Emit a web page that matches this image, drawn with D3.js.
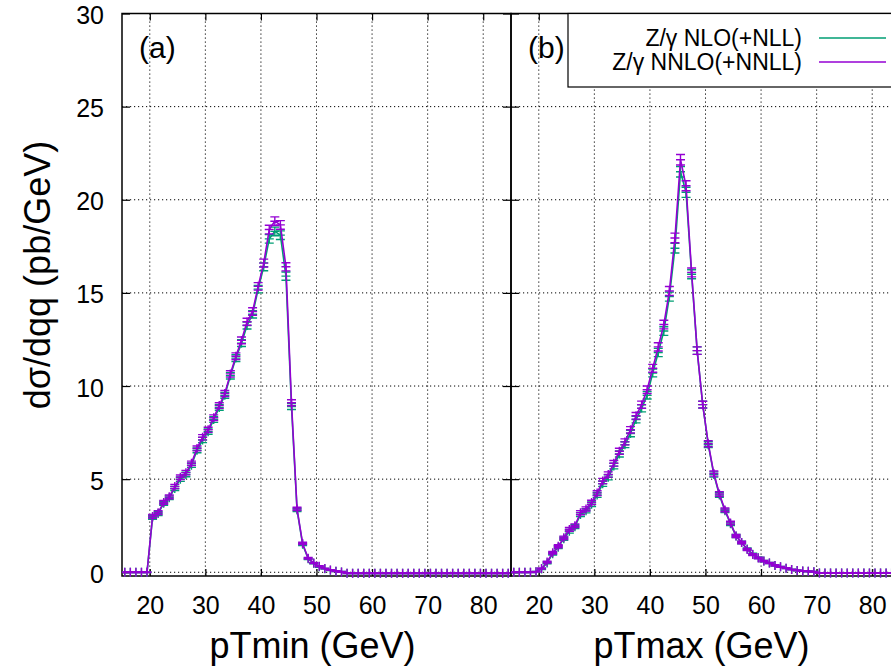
<!DOCTYPE html>
<html>
<head>
<meta charset="utf-8">
<script src="https://cdn.jsdelivr.net/npm/d3@7"></script>
<style>
  body { margin: 0; background: #fff; }
  text { font-family: "Liberation Sans", Arial, sans-serif; }
</style>
</head>
<body>
<div id="chart"></div>
<script>
// bin centres (GeV)
const bins = [15.5, 16.5, 17.5, 18.5, 19.5, 20.5, 21.5, 22.5, 23.5, 24.5,
  25.5, 26.5, 27.5, 28.5, 29.5, 30.5, 31.5, 32.5, 33.5, 34.5,
  35.5, 36.5, 37.5, 38.5, 39.5, 40.5, 41.5, 42.5, 43.5, 44.5,
  45.5, 46.5, 47.5, 48.5, 49.5, 50.5, 51.5, 52.5, 53.5, 54.5,
  55.5, 56.5, 57.5, 58.5, 59.5, 60.5, 61.5, 62.5, 63.5, 64.5,
  65.5, 66.5, 67.5, 68.5, 69.5, 70.5, 71.5, 72.5, 73.5, 74.5,
  75.5, 76.5, 77.5, 78.5, 79.5, 80.5, 81.5, 82.5, 83.5, 84.5];

// panel (a): pTmin
const nloA = [0, 0, 0, 0, 0, 2.95, 3.15, 3.7, 4.0, 4.5,
  5.0, 5.25, 5.75, 6.55, 7.1, 7.55, 8.2, 8.85, 9.5, 10.55,
  11.5, 12.3, 13.25, 13.85, 15.2, 16.4, 17.9, 18.3, 18.1, 15.9,
  8.9, 3.35, 1.5, 0.72, 0.48, 0.3, 0.19, 0.11, 0.06, 0.02,
  -0.05, -0.05, -0.05, -0.05, -0.05, -0.05, -0.05, -0.05, -0.05, -0.05,
  -0.05, -0.05, -0.05, -0.05, -0.05, -0.05, -0.05, -0.05, -0.05, -0.05,
  -0.05, -0.05, -0.05, -0.05, -0.05, -0.05, -0.05, -0.05, -0.05, -0.05];
const nnloA = [0, 0, 0, 0, 0, 3.0, 3.2, 3.75, 4.05, 4.6,
  5.1, 5.35, 5.85, 6.65, 7.25, 7.65, 8.3, 8.95, 9.6, 10.65,
  11.6, 12.45, 13.45, 14.0, 15.35, 16.6, 18.4, 18.85, 18.65, 16.4,
  9.1, 3.4, 1.55, 0.75, 0.5, 0.32, 0.2, 0.12, 0.06, 0.02,
  -0.05, -0.05, -0.05, -0.05, -0.05, -0.05, -0.05, -0.05, -0.05, -0.05,
  -0.05, -0.05, -0.05, -0.05, -0.05, -0.05, -0.05, -0.05, -0.05, -0.05,
  -0.05, -0.05, -0.05, -0.05, -0.05, -0.05, -0.05, -0.05, -0.05, -0.05];
const errA = [0.02, 0.02, 0.02, 0.02, 0.02, 0.1, 0.1, 0.1, 0.1, 0.11,
  0.12, 0.12, 0.12, 0.13, 0.14, 0.14, 0.15, 0.15, 0.16, 0.17,
  0.18, 0.18, 0.19, 0.2, 0.2, 0.21, 0.23, 0.23, 0.23, 0.22,
  0.16, 0.09, 0.06, 0.04, 0.03, 0.03, 0.02, 0.02, 0.02, 0.02,
  0.02, 0.02, 0.02, 0.02, 0.02, 0.02, 0.02, 0.02, 0.02, 0.02,
  0.02, 0.02, 0.02, 0.02, 0.02, 0.02, 0.02, 0.02, 0.02, 0.02,
  0.02, 0.02, 0.02, 0.02, 0.02, 0.02, 0.02, 0.02, 0.02, 0.02];

// panel (b): pTmax
const nloB = [0, 0, 0, 0, 0.03, 0.18, 0.5, 1.0, 1.35, 1.8,
  2.2, 2.45, 3.1, 3.3, 3.65, 4.15, 4.75, 5.1, 5.7, 6.35,
  6.85, 7.45, 8.2, 8.8, 9.5, 10.7, 11.8, 12.95, 14.8, 17.4,
  21.5, 20.4, 16.0, 11.9, 9.0, 6.85, 5.25, 4.15, 3.3, 2.6,
  1.95, 1.6, 1.25, 0.97, 0.78, 0.6, 0.5, 0.37, 0.29, 0.22,
  0.15, 0.1, 0.07, 0.05, 0.03, -0.04, -0.04, -0.04, -0.04, -0.04,
  -0.04, -0.04, -0.04, -0.04, -0.04, -0.04, -0.04, -0.04, -0.04, -0.04];
const nnloB = [0, 0, 0, 0, 0.03, 0.2, 0.55, 1.05, 1.4, 1.85,
  2.3, 2.5, 3.2, 3.4, 3.75, 4.25, 4.9, 5.25, 5.85, 6.5,
  7.0, 7.65, 8.4, 9.0, 9.8, 10.95, 12.1, 13.3, 15.1, 17.95,
  22.15, 20.75, 16.1, 11.9, 9.0, 6.9, 5.3, 4.2, 3.35, 2.65,
  1.95, 1.6, 1.22, 0.95, 0.77, 0.6, 0.5, 0.37, 0.29, 0.22,
  0.15, 0.1, 0.07, 0.05, 0.03, -0.04, -0.04, -0.04, -0.04, -0.04,
  -0.04, -0.04, -0.04, -0.04, -0.04, -0.04, -0.04, -0.04, -0.04, -0.04];
const errB = [0.02, 0.02, 0.02, 0.02, 0.02, 0.03, 0.05, 0.07, 0.08, 0.09,
  0.1, 0.1, 0.11, 0.11, 0.12, 0.13, 0.14, 0.14, 0.15, 0.16,
  0.16, 0.17, 0.18, 0.19, 0.2, 0.21, 0.22, 0.23, 0.24, 0.26,
  0.28, 0.27, 0.24, 0.2, 0.18, 0.16, 0.14, 0.12, 0.1, 0.09,
  0.08, 0.07, 0.06, 0.05, 0.04, 0.04, 0.03, 0.03, 0.02, 0.02,
  0.02, 0.02, 0.02, 0.02, 0.02, 0.02, 0.02, 0.02, 0.02, 0.02,
  0.02, 0.02, 0.02, 0.02, 0.02, 0.02, 0.02, 0.02, 0.02, 0.02];

const xTicks = [20, 30, 40, 50, 60, 70, 80];
const yTicks = [0, 5, 10, 15, 20, 25, 30];
const legendLabels = ["Z/\u03b3 NLO(+NLL)", "Z/\u03b3 NNLO(+NNLL)"];
const colors = ["#009e73", "#9400d3"];

const width = 891, height = 669;
const plotTop = 13.5, plotBottom = 576;

const svg = d3.select("#chart").append("svg")
  .attr("width", width)
  .attr("height", height);

const y = d3.scaleLinear().domain([-0.2, 30]).range([plotBottom, plotTop]);

const panels = [
  {x0: 122, x1: 511, label: "(a)", xlab: "pTmin (GeV)", nlo: nloA, nnlo: nnloA, err: errA},
  {x0: 511, x1: 900, label: "(b)", xlab: "pTmax (GeV)", nlo: nloB, nnlo: nnloB, err: errB}
];

panels.forEach((p, pi) => {
  const x = d3.scaleLinear().domain([15, 85]).range([p.x0, p.x1]);
  const g = svg.append("g");

  // grid
  g.append("g").selectAll("line").data(xTicks).join("line")
    .attr("x1", d => x(d)).attr("x2", d => x(d))
    .attr("y1", plotTop).attr("y2", plotBottom)
    .attr("stroke", "#000").attr("stroke-width", 1)
    .attr("stroke-dasharray", "1.2,2.8");
  g.append("g").selectAll("line").data(yTicks).join("line")
    .attr("x1", p.x0).attr("x2", p.x1)
    .attr("y1", d => y(d)).attr("y2", d => y(d))
    .attr("stroke", "#000").attr("stroke-width", 1)
    .attr("stroke-dasharray", "1.2,2.8");

  // axes (ticks inward)
  const xb = g.append("g").attr("transform", `translate(0,${plotBottom})`)
    .call(d3.axisBottom(x).tickValues(xTicks).tickSize(-7).tickPadding(20).tickFormat(d3.format("d")));
  const xt = g.append("g").attr("transform", `translate(0,${plotTop})`)
    .call(d3.axisTop(x).tickValues(xTicks).tickSize(-7).tickFormat(""));
  const yl = g.append("g").attr("transform", `translate(${p.x0},0)`)
    .call(d3.axisLeft(y).tickValues(yTicks).tickSize(-8).tickPadding(18).tickFormat(pi === 0 ? d3.format("d") : ""));
  const yr = g.append("g").attr("transform", `translate(${p.x1},0)`)
    .call(d3.axisRight(y).tickValues(yTicks).tickSize(-8).tickFormat(""));
  [xb, xt, yl, yr].forEach(a => {
    a.select(".domain").remove();
    a.selectAll(".tick line").attr("stroke", "#000").attr("stroke-width", 1.2);
    a.selectAll(".tick text").attr("font-size", 25).attr("fill", "#000")
      .attr("font-family", "Liberation Sans, Arial, sans-serif");
  });
  yl.selectAll(".tick text").attr("dy", "0.4em");

  // border
  g.append("rect").attr("x", p.x0).attr("y", plotTop)
    .attr("width", p.x1 - p.x0).attr("height", plotBottom - plotTop)
    .attr("fill", "none").attr("stroke", "#000").attr("stroke-width", 1.5);

  // clip
  const clipId = "clip" + pi;
  svg.append("clipPath").attr("id", clipId).append("rect")
    .attr("x", p.x0).attr("y", plotTop - 10).attr("width", p.x1 - p.x0).attr("height", plotBottom - plotTop + 20);

  const dataG = g.append("g").attr("clip-path", `url(#${clipId})`);
  [p.nlo, p.nnlo].forEach((vals, si) => {
    const pts = bins.map((b, i) => ({x: b, v: vals[i], e: p.err[i]}));
    const line = d3.line().x(d => x(d.x)).y(d => y(d.v));
    dataG.append("path").datum(pts)
      .attr("d", line)
      .attr("fill", "none")
      .attr("stroke", colors[si])
      .attr("stroke-width", 1.6);
    dataG.append("g").selectAll("path").data(pts).join("path")
      .attr("d", d => {
        const cx = x(d.x), cy = y(d.v);
        const yt = y(d.v + d.e), yb = y(d.v - d.e);
        const h = 4.5;
        return `M${cx - h},${yt}H${cx + h}M${cx - h},${yb}H${cx + h}` +
          `M${cx},${Math.min(yt, cy - h)}V${Math.max(yb, cy + h)}M${cx - h},${cy}H${cx + h}`;
      })
      .attr("fill", "none")
      .attr("stroke", colors[si])
      .attr("stroke-width", 1.4);
  });

  // panel label
  g.append("text").attr("x", p.x0 + 17).attr("y", 58)
    .attr("font-size", 30).text(p.label);

  // x label
  g.append("text").attr("x", (p.x0 + p.x1) / 2 - 4).attr("y", 658)
    .attr("text-anchor", "middle").attr("font-size", 36).text(p.xlab);
});

// y label
svg.append("text")
  .attr("transform", "translate(50,275) rotate(-90)")
  .attr("text-anchor", "middle").attr("font-size", 36)
  .text("d\u03c3/dqq (pb/GeV)");

// legend
const lg = svg.append("g");
lg.append("rect").attr("x", 568).attr("y", plotTop).attr("width", 340).attr("height", 87 - plotTop)
  .attr("fill", "#fff").attr("stroke", "#000").attr("stroke-width", 1.2);
legendLabels.forEach((t, i) => {
  const ly = 38 + i * 24;
  lg.append("text").attr("x", 802).attr("y", ly + 8)
    .attr("text-anchor", "end").attr("font-size", 23).text(t);
  lg.append("line").attr("x1", 819).attr("x2", 886).attr("y1", ly).attr("y2", ly)
    .attr("stroke", colors[i]).attr("stroke-width", 1.6);
});
</script>
</body>
</html>
